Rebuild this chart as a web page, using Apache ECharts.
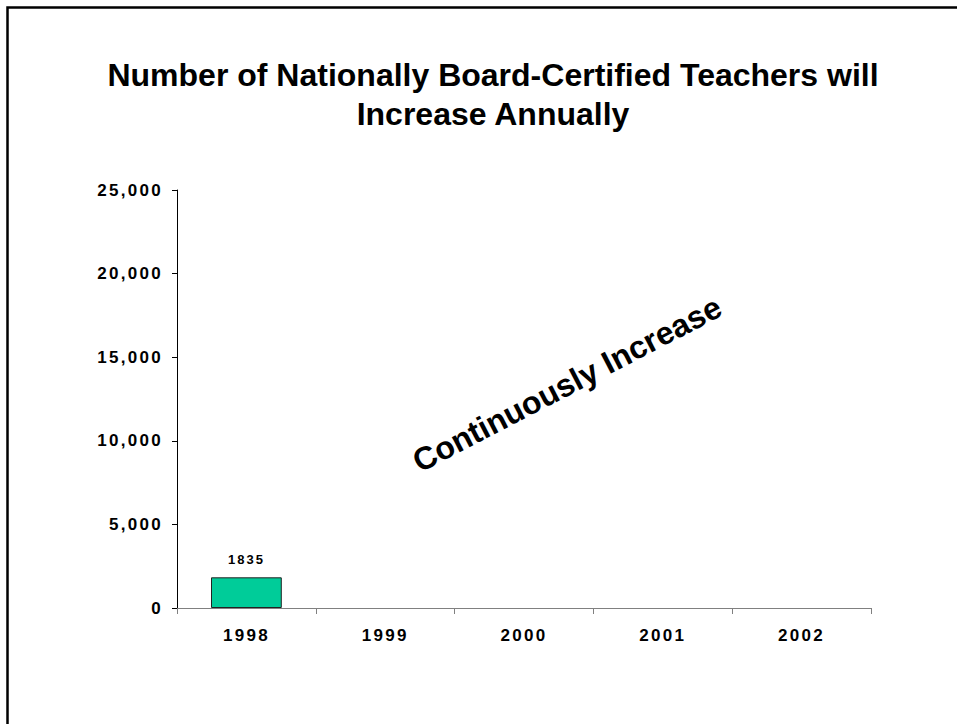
<!DOCTYPE html>
<html>
<head>
<meta charset="utf-8">
<script src="https://cdn.jsdelivr.net/npm/echarts@6/dist/echarts.min.js"></script>
<style>
html, body { margin: 0; padding: 0; background: #fff; }
#chart { width: 957px; height: 724px; }
#chart text[style*="17px"] { letter-spacing: 2.3px; }
#chart text[style*="13px"] { letter-spacing: 2px; }
</style>
</head>
<body>
<div id="chart"></div>
<script>
const titleLines = ['Number of Nationally Board-Certified Teachers will', 'Increase Annually'];
const categories = ['1998', '1999', '2000', '2001', '2002'];
const teachers = [1835, null, null, null, null];
const yTicks = [0, 5000, 10000, 15000, 20000, 25000];
const yTickLabels = ['0', '5,000', '10,000', '15,000', '20,000', '25,000'];
const annotation = 'Continuously Increase';

const FONT = '"Liberation Sans", Arial, sans-serif';
const chart = echarts.init(document.getElementById('chart'), null, { renderer: 'svg' });

chart.setOption({
  backgroundColor: '#ffffff',
  animation: false,
  title: {
    text: titleLines.join('\n'),
    left: 488,
    top: 50,
    textAlign: 'center',
    textStyle: { fontFamily: FONT, fontWeight: 'bold', fontSize: 32, lineHeight: 39, color: '#000' }
  },
  grid: { left: 177, top: 190, right: 86, bottom: 116, containLabel: false },
  xAxis: {
    type: 'category',
    data: categories,
    axisLine: { lineStyle: { color: '#808080', width: 1 } },
    axisTick: { show: true, length: 6, lineStyle: { color: '#808080' } },
    axisLabel: { margin: 19, fontFamily: FONT, fontWeight: 'bold', fontSize: 17, color: '#000' },
    splitLine: { show: false }
  },
  yAxis: {
    type: 'value',
    min: yTicks[0],
    max: yTicks[yTicks.length - 1],
    interval: yTicks[1] - yTicks[0],
    axisLine: { show: true, lineStyle: { color: '#000', width: 1 } },
    axisTick: { show: true, length: 5, lineStyle: { color: '#000' } },
    axisLabel: {
      margin: 14,
      fontFamily: FONT, fontWeight: 'bold', fontSize: 17, color: '#000',
      formatter: function (v) { const i = yTicks.indexOf(v); return i >= 0 ? yTickLabels[i] : ''; }
    },
    splitLine: { show: false }
  },
  series: [{
    type: 'bar',
    data: teachers,
    barWidth: '51%',
    itemStyle: { color: '#00CC99', borderColor: '#222', borderWidth: 1 },
    label: {
      show: true, position: 'top', distance: 11,
      fontFamily: FONT, fontWeight: 'bold', fontSize: 13, color: '#000',
      formatter: function (p) { return p.value == null ? '' : String(p.value); }
    }
  }],
  graphic: [
    {
      type: 'rect',
      shape: { x: 7.5, y: 7.5, width: 1200, height: 1200 },
      style: { fill: 'none', stroke: '#000', lineWidth: 2.5 },
      silent: true
    },
    {
      type: 'text',
      x: 567, y: 384,
      rotation: 27.5 * Math.PI / 180,
      style: {
        text: annotation,
        fontFamily: FONT, fontWeight: 'bold', fontSize: 32, fill: '#000',
        textAlign: 'center', textVerticalAlign: 'middle'
      }
    }
  ]
});
</script>
</body>
</html>
